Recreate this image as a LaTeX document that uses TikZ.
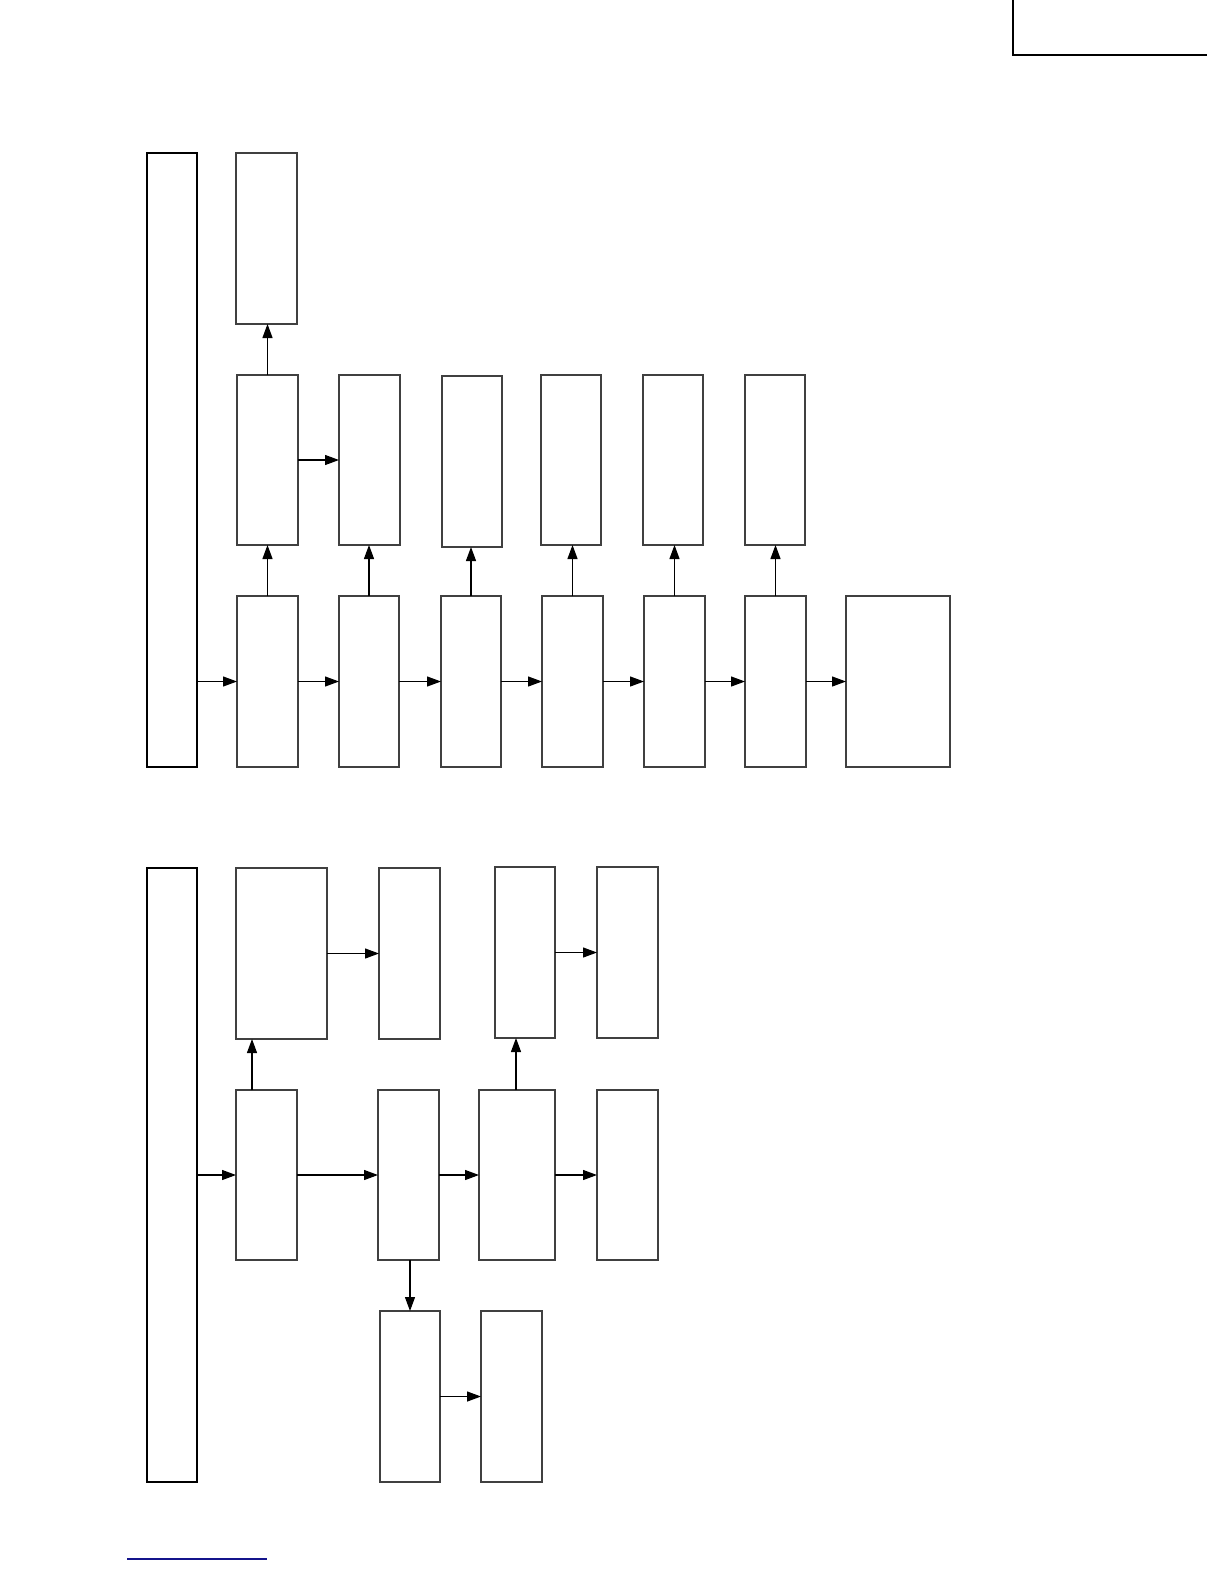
\documentclass[tikz,border=0pt]{standalone}
\usetikzlibrary{fit,arrows.meta}
\begin{document}
\begin{tikzpicture}[x=0.5pt,y=-0.5pt,
  box/.style={draw=black!75,line width=0.6pt,inner sep=0pt,outer sep=0pt},
  bar/.style={draw=black,line width=1.2pt,inner sep=0pt,outer sep=0pt},
  arr/.style={line width=0.6pt,-{Triangle[length=7pt,width=5pt]}}]
\useasboundingbox (0,0) rectangle (1224,1584);
\newcommand\bx[6][box]{\node[#1,fit={(#3,#4)(#5,#6)}] (#2) {};}
% top section
\bx[bar]{barT}{147}{153}{197}{767}
\bx{A0}{236}{153}{297}{324}
\bx{B1}{237}{375}{298}{545}
\bx{B2}{339}{375}{400}{545}
\bx{B3}{442}{376}{502}{547}
\bx{B4}{541}{375}{601}{545}
\bx{B5}{643}{375}{703}{545}
\bx{B6}{745}{375}{805}{545}
\bx{C1}{237}{596}{298}{767}
\bx{C2}{339}{596}{399}{767}
\bx{C3}{441}{596}{501}{767}
\bx{C4}{542}{596}{603}{767}
\bx{C5}{644}{596}{705}{767}
\bx{C6}{745}{596}{806}{767}
\bx{C7}{846}{596}{950}{767}
\draw[arr] (barT.east |- C1) -- (C1.west);
\draw[arr] (C1) -- (C2);
\draw[arr] (C2) -- (C3);
\draw[arr] (C3) -- (C4);
\draw[arr] (C4) -- (C5);
\draw[arr] (C5) -- (C6);
\draw[arr] (C6) -- (C7);
\draw[arr] (C1.north) -- (C1.north |- B1.south);
\draw[arr] (C2.north) -- (C2.north |- B2.south);
\draw[arr] (C3.north) -- (C3.north |- B3.south);
\draw[arr] (C4.north) -- (C4.north |- B4.south);
\draw[arr] (C5.north) -- (C5.north |- B5.south);
\draw[arr] (C6.north) -- (C6.north |- B6.south);
\draw[arr] (B1.north) -- (B1.north |- A0.south);
\draw[arr] (B1.east) -- (B2.west);
% bottom section
\bx[bar]{barB}{147}{868}{197}{1482}
\bx{D1}{236}{868}{327}{1039}
\bx{D2}{379}{868}{440}{1039}
\bx{D3}{495}{867}{555}{1038}
\bx{D4}{597}{867}{658}{1038}
\bx{E1}{236}{1090}{297}{1260}
\bx{E2}{378}{1090}{439}{1260}
\bx{E3}{479}{1090}{555}{1260}
\bx{E4}{597}{1090}{658}{1260}
\bx{F1}{380}{1311}{440}{1482}
\bx{F2}{481}{1311}{542}{1482}
\draw[arr] (barB.east |- E1) -- (E1.west);
\draw[arr] (E1) -- (E2);
\draw[arr] (E2) -- (E3);
\draw[arr] (E3) -- (E4);
\draw[arr] ([xshift=8pt]E1.north west) -- ([xshift=8pt]E1.north west |- D1.south);
\draw[arr] ([xshift=18.5pt]E3.north west) -- ([xshift=18.5pt]E3.north west |- D3.south);
\draw[arr] (D1.east |- D2) -- (D2.west);
\draw[arr] (D3.east |- D4) -- (D4.west);
\draw[arr] (E2.south -| F1) -- (F1.north);
\draw[arr] (F1) -- (F2);
% corner frame
\coordinate (k1) at (1013,0);
\coordinate (k2) at (1207,55);
\draw[line width=1.2pt] (k1) -- (k1 |- k2) -- (k2);
% blue line
\coordinate (u1) at (127,1559);
\coordinate (u2) at (267,1559);
\draw[line width=0.7pt,draw={rgb,255:red,20;green,20;blue,140}] (u1) -- (u2);
\end{tikzpicture}
\end{document}
